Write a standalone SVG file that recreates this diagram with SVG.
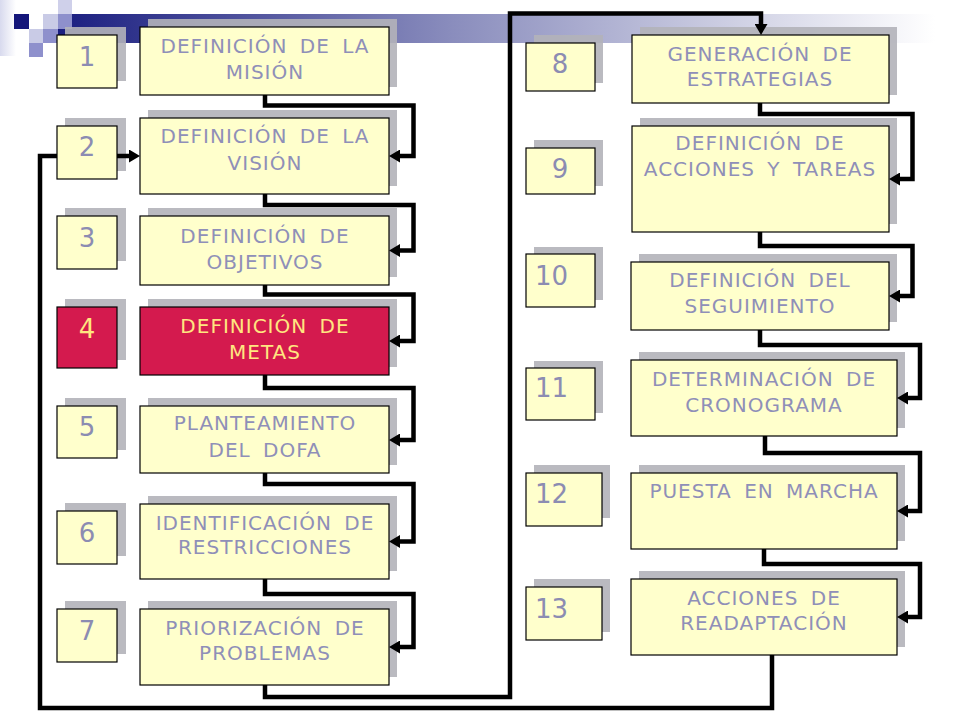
<svg xmlns="http://www.w3.org/2000/svg" width="960" height="720" viewBox="0 0 960 720">
<defs>
<linearGradient id="band" x1="58" y1="0" x2="935" y2="0" gradientUnits="userSpaceOnUse">
<stop offset="0" stop-color="#1a1e80"/>
<stop offset="0.45" stop-color="#8a8dbd"/>
<stop offset="1" stop-color="#ffffff"/>
</linearGradient>
<linearGradient id="strip" x1="0" y1="0" x2="1" y2="0">
<stop offset="0" stop-color="#d8daee"/>
<stop offset="1" stop-color="#ffffff"/>
</linearGradient>
<marker id="ah" markerUnits="userSpaceOnUse" markerWidth="12" markerHeight="13" refX="3" refY="6.5" orient="auto" viewBox="0 0 12 13">
<path d="M0,0 L11,6.5 L0,13 z" fill="#000"/>
</marker>
<style>
.sh{fill:#b3b3b9;opacity:0.9}
.bx{fill:#ffffcc;stroke:#000;stroke-width:1.2}
.hot{fill:#d41a4e;stroke:#000;stroke-width:1.2}
.t{font-family:"DejaVu Sans","Liberation Sans",sans-serif;font-size:20px;fill:#8f8fb8;text-anchor:middle;letter-spacing:1px;word-spacing:5px}
.n{font-family:"DejaVu Sans","Liberation Sans",sans-serif;font-size:26px;fill:#8c8cb2;text-anchor:middle}
.nl{font-family:"DejaVu Sans","Liberation Sans",sans-serif;font-size:26px;fill:#8c8cb2}
.ht{fill:#ffe680}
.c{fill:none;stroke:#000;stroke-width:4.5;stroke-linejoin:miter}
</style>
</defs>
<rect width="960" height="720" fill="#fff"/>
<g id="decor">
<rect x="0" y="0" width="16" height="56" fill="url(#strip)"/>
<rect x="58" y="14" width="877" height="29" fill="url(#band)"/>
<rect x="14" y="14" width="15" height="15" fill="#14167a"/>
<rect x="43" y="14" width="15" height="15" fill="#c9cbe6"/>
<rect x="58" y="0" width="14" height="14" fill="#cfd0ea"/>
<rect x="58" y="14" width="14" height="15" fill="#8e90cc"/>
<rect x="29" y="29" width="14" height="14" fill="#c9cbe6"/>
<rect x="43" y="29" width="15" height="14" fill="#8e90cc"/>
<rect x="29" y="43" width="14" height="14" fill="#8e90cc"/>
</g>
<g id="step-1">
<rect class="sh" x="65" y="27" width="61" height="54"/><rect class="bx" x="57" y="35" width="60" height="53"/><text class="n" x="87" y="66">1</text>
<rect class="sh" x="148" y="19" width="249" height="68"/><rect class="bx" x="140" y="27" width="249" height="68"/>
<text class="t" x="265" y="53">DEFINICIÓN DE LA</text><text class="t" x="265" y="79">MISIÓN</text>
</g>
<g id="step-2">
<rect class="sh" x="65" y="118" width="61" height="53"/><rect class="bx" x="57" y="126" width="60" height="53"/><text class="n" x="87" y="156">2</text>
<rect class="sh" x="148" y="110" width="249" height="76"/><rect class="bx" x="140" y="118" width="249" height="76"/>
<text class="t" x="265" y="143">DEFINICIÓN DE LA</text><text class="t" x="265" y="170">VISIÓN</text>
</g>
<g id="step-3">
<rect class="sh" x="65" y="208" width="61" height="53"/><rect class="bx" x="57" y="216" width="60" height="53"/><text class="n" x="87" y="247">3</text>
<rect class="sh" x="148" y="208" width="249" height="69"/><rect class="bx" x="140" y="216" width="249" height="69"/>
<text class="t" x="265" y="243">DEFINICIÓN DE</text><text class="t" x="265" y="269">OBJETIVOS</text>
</g>
<g id="step-4">
<rect class="sh" x="65" y="299" width="61" height="61"/><rect class="hot" x="57" y="307" width="60" height="61"/><text class="n ht" x="87" y="338">4</text>
<rect class="sh" x="148" y="299" width="249" height="68"/><rect class="hot" x="140" y="307" width="249" height="68"/>
<text class="t ht" x="265" y="333">DEFINICIÓN DE</text><text class="t ht" x="265" y="359">METAS</text>
</g>
<g id="step-5">
<rect class="sh" x="65" y="398" width="61" height="52"/><rect class="bx" x="57" y="406" width="60" height="52"/><text class="n" x="87" y="436">5</text>
<rect class="sh" x="148" y="398" width="249" height="67"/><rect class="bx" x="140" y="406" width="249" height="67"/>
<text class="t" x="265" y="430">PLANTEAMIENTO</text><text class="t" x="265" y="457">DEL DOFA</text>
</g>
<g id="step-6">
<rect class="sh" x="65" y="503" width="61" height="53"/><rect class="bx" x="57" y="511" width="60" height="53"/><text class="n" x="87" y="542">6</text>
<rect class="sh" x="148" y="496" width="249" height="75"/><rect class="bx" x="140" y="504" width="249" height="75"/>
<text class="t" x="265" y="530">IDENTIFICACIÓN DE</text><text class="t" x="265" y="554">RESTRICCIONES</text>
</g>
<g id="step-7">
<rect class="sh" x="65" y="601" width="61" height="53"/><rect class="bx" x="57" y="609" width="60" height="53"/><text class="n" x="87" y="640">7</text>
<rect class="sh" x="148" y="601" width="249" height="76"/><rect class="bx" x="140" y="609" width="249" height="76"/>
<text class="t" x="265" y="635">PRIORIZACIÓN DE</text><text class="t" x="265" y="660">PROBLEMAS</text>
</g>
<g id="step-8">
<rect class="sh" x="534" y="35" width="69" height="48"/><rect class="bx" x="526" y="43" width="69" height="48"/><text class="n" x="560" y="73">8</text>
<rect class="sh" x="640" y="27" width="257" height="68"/><rect class="bx" x="632" y="35" width="257" height="68"/>
<text class="t" x="760" y="61">GENERACIÓN DE</text><text class="t" x="760" y="86">ESTRATEGIAS</text>
</g>
<g id="step-9">
<rect class="sh" x="534" y="140" width="69" height="46"/><rect class="bx" x="526" y="148" width="69" height="46"/><text class="n" x="560" y="178">9</text>
<rect class="sh" x="640" y="118" width="257" height="106"/><rect class="bx" x="632" y="126" width="257" height="106"/>
<text class="t" x="760" y="150">DEFINICIÓN DE</text><text class="t" x="760" y="176">ACCIONES Y TAREAS</text>
</g>
<g id="step-10">
<rect class="sh" x="534" y="247" width="69" height="53"/><rect class="bx" x="526" y="254" width="69" height="53"/><text class="nl" x="535" y="285">10</text>
<rect class="sh" x="639" y="254" width="258" height="68"/><rect class="bx" x="631" y="262" width="258" height="68"/>
<text class="t" x="760" y="287">DEFINICIÓN DEL</text><text class="t" x="760" y="313">SEGUIMIENTO</text>
</g>
<g id="step-11">
<rect class="sh" x="534" y="361" width="69" height="52"/><rect class="bx" x="526" y="368" width="69" height="52"/><text class="nl" x="535" y="397">11</text>
<rect class="sh" x="639" y="352" width="266" height="76"/><rect class="bx" x="631" y="360" width="266" height="76"/>
<text class="t" x="764" y="386">DETERMINACIÓN DE</text><text class="t" x="764" y="412">CRONOGRAMA</text>
</g>
<g id="step-12">
<rect class="sh" x="534" y="465" width="76" height="53"/><rect class="bx" x="526" y="473" width="76" height="53"/><text class="nl" x="535" y="503">12</text>
<rect class="sh" x="639" y="465" width="266" height="76"/><rect class="bx" x="631" y="473" width="266" height="76"/>
<text class="t" x="764" y="498">PUESTA EN MARCHA</text>
</g>
<g id="step-13">
<rect class="sh" x="534" y="579" width="76" height="53"/><rect class="bx" x="526" y="587" width="76" height="53"/><text class="nl" x="535" y="618">13</text>
<rect class="sh" x="639" y="571" width="266" height="76"/><rect class="bx" x="631" y="579" width="266" height="76"/>
<text class="t" x="764" y="605">ACCIONES DE</text><text class="t" x="764" y="630">READAPTACIÓN</text>
</g>
<g id="connectors">
<path class="c" d="M265,95 V105.5 H413.5 V156 H397" marker-end="url(#ah)"/>
<path class="c" d="M265,194 V205 H413.5 V250.5 H397" marker-end="url(#ah)"/>
<path class="c" d="M265,285 V294.5 H413.5 V341 H397" marker-end="url(#ah)"/>
<path class="c" d="M265,375 V388 H413.5 V440 H397" marker-end="url(#ah)"/>
<path class="c" d="M265,473 V484 H413.5 V541.5 H397" marker-end="url(#ah)"/>
<path class="c" d="M265,579 V594 H413.5 V647 H397" marker-end="url(#ah)"/>
<path class="c" d="M265,685 V697 H510 V13.5 H761 V27" marker-end="url(#ah)"/>
<path class="c" d="M760,103 V114 H912.5 V179 H897" marker-end="url(#ah)"/>
<path class="c" d="M760,232 V246 H912.5 V296 H897" marker-end="url(#ah)"/>
<path class="c" d="M760,330 V345 H920 V398 H905" marker-end="url(#ah)"/>
<path class="c" d="M765,436 V453 H920 V511 H905" marker-end="url(#ah)"/>
<path class="c" d="M764,549 V564 H920 V617 H905" marker-end="url(#ah)"/>
<path class="c" d="M772,655 V708 H40 V156 H57"/>
<path class="c" d="M117,156 H132" marker-end="url(#ah)"/>
</g>
</svg>
